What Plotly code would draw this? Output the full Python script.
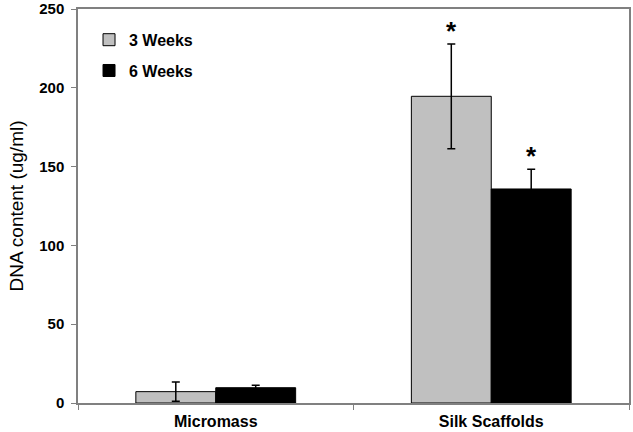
import plotly.graph_objects as go

categories = ["Micromass", "Silk Scaffolds"]
weeks3 = [7.2, 194.6]
weeks3_err = [6.1, 33.2]
weeks6 = [9.7, 135.8]
weeks6_err = [1.5, 12.5]
sig3 = ["", "*"]
sig6 = ["", "*"]
y_ticks = [0, 50, 100, 150, 200, 250]

FONT = "Liberation Sans, Arial, sans-serif"
GAP = 0.42

fig = go.Figure()
fig.add_trace(go.Bar(
    name="3 Weeks", x=categories, y=weeks3, offsetgroup="a", legendgroup="a",
    marker=dict(color="#C0C0C0", line=dict(color="#000000", width=1)),
    error_y=dict(type="data", array=weeks3_err, color="#000000", thickness=1.5, width=4),
))
fig.add_trace(go.Bar(
    name="6 Weeks", x=categories, y=weeks6, offsetgroup="b", legendgroup="b",
    marker=dict(color="#000000", line=dict(color="#000000", width=1)),
    error_y=dict(type="data", array=weeks6_err, color="#000000", thickness=1.5, width=4),
))

# significance stars above the error bars, positioned at bar centres
half = (1 - GAP) / 4
for series_vals, series_err, marks, sign in [
    (weeks3, weeks3_err, sig3, -1),
    (weeks6, weeks6_err, sig6, 1),
]:
    for i, (v, e, m) in enumerate(zip(series_vals, series_err, marks)):
        if m:
            fig.add_annotation(
                x=i + sign * half, y=v + e, xref="x", yref="y", text=m,
                showarrow=False, yanchor="bottom", yshift=-4,
                font=dict(family=FONT, size=26, color="#000000", weight="bold"),
            )

fig.update_layout(
    width=633, height=432,
    margin=dict(l=78, r=4, t=9, b=29),
    paper_bgcolor="white", plot_bgcolor="white",
    barmode="group", bargap=GAP, bargroupgap=0,
    font=dict(family=FONT, color="#000000"),
    showlegend=True,
    legend=dict(
        x=0.02, y=0.965, xanchor="left", yanchor="top",
        bgcolor="rgba(0,0,0,0)", tracegroupgap=7, itemwidth=30,
        font=dict(family=FONT, size=16, color="#000000", weight="bold"),
        traceorder="grouped",
    ),
    xaxis=dict(
        type="category", showline=True, linecolor="#808080", linewidth=1.5,
        mirror=True, ticks="outside", tickson="boundaries", ticklen=5,
        tickcolor="#808080", showgrid=False, automargin=False,
        ticklabelstandoff=3,
        tickfont=dict(family=FONT, size=16, color="#000000", weight="bold"),
    ),
    yaxis=dict(
        range=[0, 250], tickvals=y_ticks, showline=True, linecolor="#808080",
        linewidth=1.5, mirror=True, ticks="outside", ticklen=5,
        tickcolor="#808080", showgrid=False, zeroline=False, automargin=False,
        ticklabelstandoff=4,
        tickfont=dict(family=FONT, size=15, color="#000000", weight="bold"),
        title=dict(text="DNA content (ug/ml)", standoff=11,
                   font=dict(family=FONT, size=19, color="#000000")),
    ),
)

fig.write_html("out.html", config={"displayModeBar": False},
               post_script="document.body.style.margin='0';")
